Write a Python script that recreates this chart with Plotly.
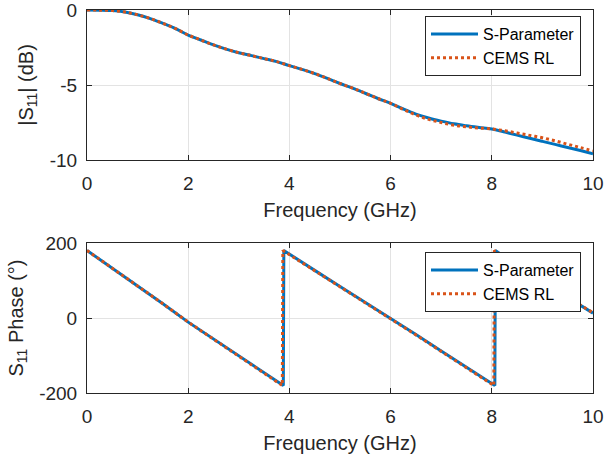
import plotly.graph_objects as go

# Reflection magnitude |S11| in dB
freq_mag = [0, 0.25, 0.5, 0.75, 1.0, 1.25, 1.5, 1.75, 2.0, 2.25, 2.5, 2.75, 3.0, 3.25,
            3.5, 3.75, 4.0, 4.25, 4.5, 4.75, 5.0, 5.25, 5.5, 5.75, 6.0, 6.25, 6.5,
            6.75, 7.0, 7.25, 7.5, 7.75, 8.0, 8.25, 8.5, 8.75, 9.0, 9.25, 9.5, 9.75, 10.0]
mag_sparam = [0, -0.01, -0.04, -0.14, -0.32, -0.57, -0.89, -1.24, -1.67, -2.0, -2.33,
              -2.61, -2.85, -3.04, -3.24, -3.44, -3.71, -3.96, -4.24, -4.56, -4.90,
              -5.21, -5.55, -5.90, -6.22, -6.60, -6.94, -7.20, -7.41, -7.59, -7.72,
              -7.83, -7.93, -8.13, -8.34, -8.55, -8.76, -8.96, -9.17, -9.37, -9.58]
mag_cems = [0, -0.01, -0.04, -0.14, -0.32, -0.57, -0.89, -1.24, -1.67, -2.0, -2.33,
            -2.61, -2.85, -3.04, -3.24, -3.44, -3.71, -3.96, -4.24, -4.56, -4.90,
            -5.21, -5.55, -5.90, -6.22, -6.63, -7.00, -7.29, -7.50, -7.68, -7.79,
            -7.87, -7.93, -8.05, -8.20, -8.36, -8.52, -8.72, -8.95, -9.17, -9.40]

# Reflection phase in degrees (wrapped to +/-180)
freq_ph_sparam = [0, 0.5, 1, 1.5, 2, 2.5, 3, 3.5, 3.88, 3.89, 4, 4.5, 5, 5.5, 6, 6.5,
                  7, 7.5, 8, 8.06, 8.07, 8.5, 9, 9.5, 10]
ph_sparam = [180, 133, 86, 38, -11, -56, -101, -146, -180, 180, 170, 127, 84, 42, 0,
             -44, -88, -132, -175, -180, 180, 140, 97, 55, 13]
freq_ph_cems = [0, 0.5, 1, 1.5, 2, 2.5, 3, 3.5, 3.86, 3.87, 4, 4.5, 5, 5.5, 6, 6.5,
                7, 7.5, 8, 8.04, 8.05, 8.5, 9, 9.5, 10]
ph_cems = [180, 133, 86, 38, -11, -56, -101, -146, -180, 180, 169, 126, 83, 41, -1,
           -45, -89, -133, -176, -180, 180, 140, 97, 55, 14]

x_ticks = [0, 2, 4, 6, 8, 10]
mag_ticks = [-10, -5, 0]
mag_tick_text = ["-10", "-5", "0"]
ph_ticks = [-200, 0, 200]
ph_tick_text = ["-200", "0", "200"]

BLUE = "#0072BD"
ORANGE = "#D95319"
AX = "#262626"
FONT = "Liberation Sans, Arial, sans-serif"

W, H = 613, 458
L, R = 87, 593
TOP1, BOT1 = 10, 160
TOP2, BOT2 = 243, 393

fig = go.Figure()

fig.add_trace(go.Scatter(x=freq_mag, y=mag_sparam, mode="lines", name="S-Parameter",
                         line=dict(color=BLUE, width=3, shape="spline"),
                         xaxis="x", yaxis="y", legend="legend"))
fig.add_trace(go.Scatter(x=freq_mag, y=mag_cems, mode="lines", name="CEMS RL",
                         line=dict(color=ORANGE, width=3, dash="dot", shape="spline"),
                         xaxis="x", yaxis="y", legend="legend"))
fig.add_trace(go.Scatter(x=freq_ph_sparam, y=ph_sparam, mode="lines", name="S-Parameter",
                         line=dict(color=BLUE, width=3),
                         xaxis="x2", yaxis="y2", legend="legend2"))
fig.add_trace(go.Scatter(x=freq_ph_cems, y=ph_cems, mode="lines", name="CEMS RL",
                         line=dict(color=ORANGE, width=3, dash="dot"),
                         xaxis="x2", yaxis="y2", legend="legend2"))

def xax(anchor):
    return dict(domain=[L / W, R / W], anchor=anchor, range=[0, 10], tickvals=x_ticks,
                showline=True, linecolor=AX, linewidth=1, mirror="allticks",
                ticks="inside", ticklen=5, tickcolor=AX,
                showgrid=True, gridcolor="#e3e3e3", gridwidth=1, zeroline=False,
                tickfont=dict(family=FONT, size=19, color=AX),
                ticklabelstandoff=6, ticklabeloverflow="allow",
                title=dict(text="Frequency (GHz)", font=dict(family=FONT, size=20, color=AX),
                           standoff=10),
                automargin=False)

def yax(anchor, top, bottom, rng, ticks, ticktext, title):
    return dict(domain=[(H - bottom) / H, (H - top) / H], anchor=anchor, range=rng,
                tickvals=ticks, ticktext=ticktext, showline=True, linecolor=AX,
                linewidth=1, mirror="allticks", ticks="inside", ticklen=5, tickcolor=AX,
                showgrid=True, gridcolor="#e3e3e3", gridwidth=1, zeroline=False,
                tickfont=dict(family=FONT, size=19, color=AX),
                ticklabelstandoff=5, ticklabeloverflow="allow",
                title=dict(text=title, font=dict(family=FONT, size=20, color=AX),
                           standoff=10),
                automargin=False)

legend_style = dict(xanchor="right", yanchor="top", bgcolor="white",
                    bordercolor=AX, borderwidth=1,
                    font=dict(family=FONT, size=16, color="black"),
                    itemwidth=47, tracegroupgap=0)

fig.update_layout(
    width=W, height=H,
    margin=dict(l=0, r=0, t=0, b=0),
    paper_bgcolor="white", plot_bgcolor="white",
    showlegend=True,
    xaxis=xax("y"),
    yaxis=yax("x", TOP1, BOT1, [-10, 0], mag_ticks, mag_tick_text, "|S<sub>11</sub>| (dB)"),
    xaxis2=xax("y2"),
    yaxis2=yax("x2", TOP2, BOT2, [-200, 200], ph_ticks, ph_tick_text,
               "S<sub>11</sub> Phase (°)"),
    legend=dict(x=581 / W, y=(H - 16) / H, **legend_style),
    legend2=dict(x=581 / W, y=(H - 252) / H, **legend_style),
)

fig.write_html("out.html")
